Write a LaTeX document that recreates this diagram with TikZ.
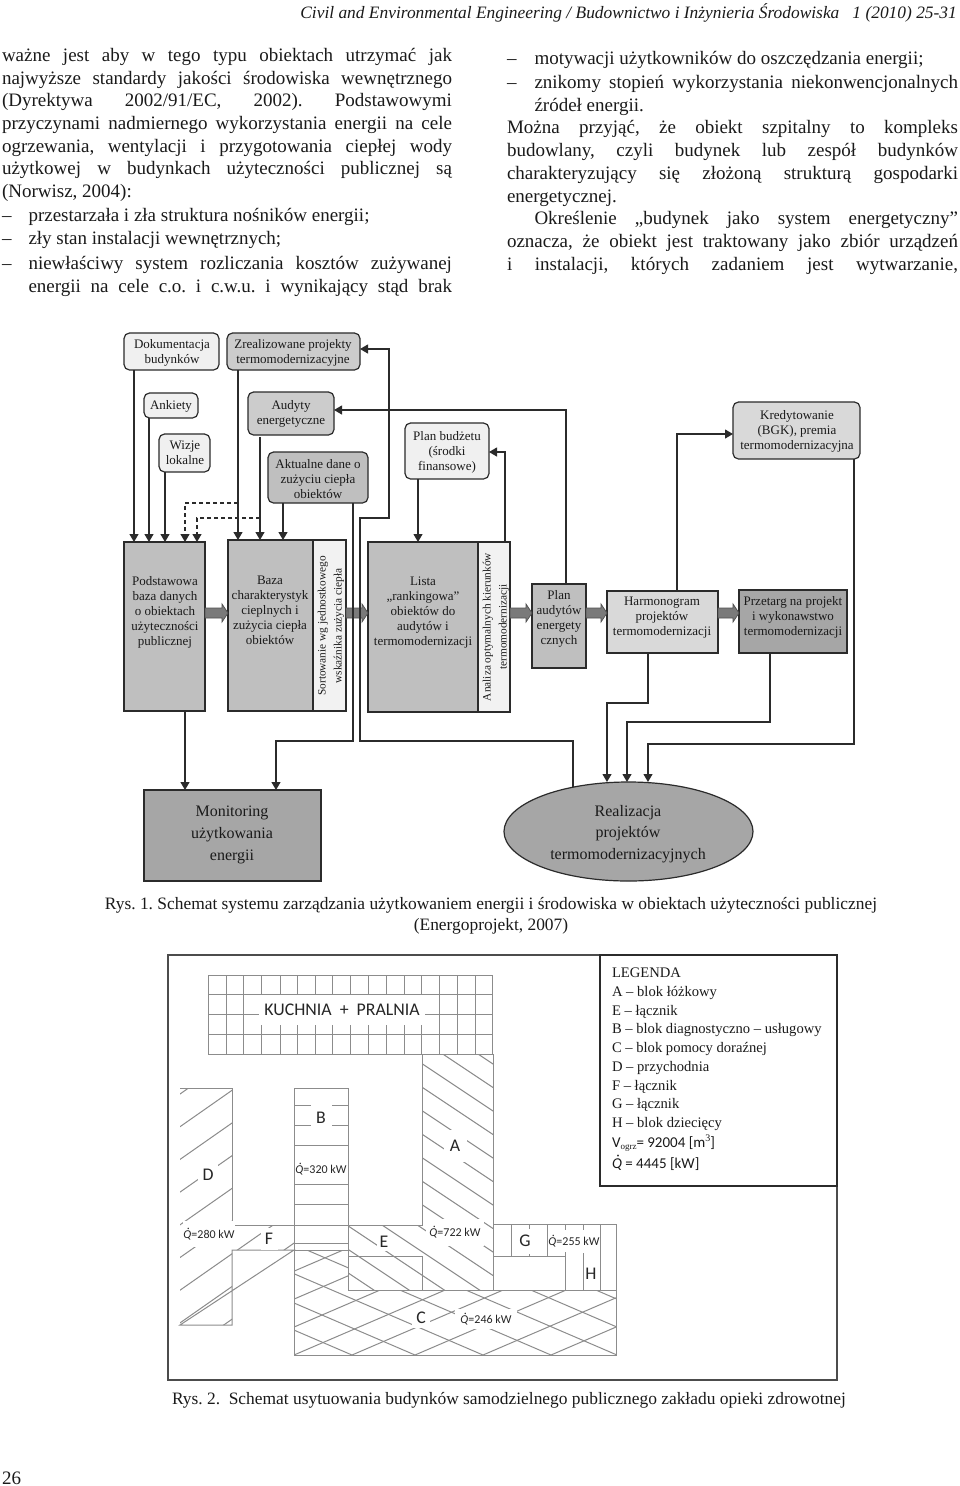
\documentclass[tikz,border=0pt]{standalone}
\usepackage{fontspec}
\setmainfont{Liberation Serif}
\newfontfamily\calfont{Carlito}
\usetikzlibrary{arrows.meta,calc,shapes.geometric}
\definecolor{ink}{HTML}{2B2B2B}
\definecolor{plan}{HTML}{8C8C8C}
\definecolor{txtc}{HTML}{1A1A1A}
\tikzset{
  bodytxt/.style={inner sep=0pt,outer sep=0pt,text=txtc,font=\fontsize{19}{23}\selectfont,anchor=base west},
  captxt/.style={inner sep=0pt,outer sep=0pt,text=txtc,font=\fontsize{17.4}{21}\selectfont,anchor=base},
  rbox/.style={draw=ink,line width=1.2pt,rounded corners=5.5pt,inner sep=0pt,outer sep=0pt},
  sbox/.style={draw=ink,line width=1.3pt,inner sep=0pt,outer sep=0pt},
  lab/.style={inner sep=0pt,outer sep=0pt,align=center,text=txtc,font=\fontsize{13}{15}\selectfont},
  biglab/.style={inner sep=0pt,outer sep=0pt,align=center,text=txtc,font=\fontsize{16}{21.7}\selectfont},
  rotlab/.style={inner sep=0pt,outer sep=0pt,align=center,text=txtc,rotate=90,font=\fontsize{11.3}{16}\selectfont},
  arr/.style={draw=ink,line width=1.1pt,-{Triangle[length=8pt,width=9pt]}},
  das/.style={draw=ink,line width=1.1pt,dash pattern=on 4pt off 3pt},
  fatarr/.style={fill=black!52,draw=black!68,line width=0.7pt},
  planl/.style={draw=plan,line width=1pt},
  whl/.style={fill=white,inner sep=0pt,outer sep=0pt},
  cl/.style={text=black!85,font=\calfont\fontsize{17.8}{20}\selectfont},
  cq/.style={text=black!85,font=\calfont\fontsize{12}{14}\selectfont},
  leg/.style={inner sep=0pt,outer sep=0pt,text=txtc,font=\fontsize{14.6}{18}\selectfont,anchor=base west}
}
\newcommand\Qd{{\itshape\accent"02D9 Q}}
% name x0 y0 x1 y1 style
\newcommand\bx[6]{\node[#6,minimum width={(#4-#2)*1pt},minimum height={(#5-#3)*1pt}] (#1) at ({(#2+#4)/2},{(#3+#5)/2}) {};}
% justified line: name x y width text
\newcommand\jl[5]{\node[bodytxt] (#1) at (#2,#3) {\makebox[#4pt][s]{#5}};}
\newcommand\fl[4]{\node[bodytxt] (#1) at (#2,#3) {#4};}
\newcommand\fat[3]{\coordinate (fa) at (#1.east |- 0,#3);\coordinate (fb) at (#2.west |- 0,#3);
  \draw[fatarr] ($(fa)+(0,-5)$) -- ($(fb)+(-6,-5)$) -- ($(fb)+(-6,-9)$) -- (fb) -- ($(fb)+(-6,9)$) -- ($(fb)+(-6,5)$) -- ($(fa)+(0,5)$) -- cycle;}
\begin{document}
\frenchspacing
\begin{tikzpicture}[x=1pt,y=-1pt]
\useasboundingbox (0,0) rectangle (960,1486);
\fill[white] (0,0) rectangle (960,1486);

% header and body text
\node[inner sep=0pt,anchor=base east,text=txtc,font=\fontsize{17.4}{18}\selectfont\itshape] (head) at (957,18)
  {Civil and Environmental Engineering / Budownictwo i Inżynieria Środowiska\ \ \ 1 (2010) 25-31};
\jl{l1}{2}{61}{450}{ważne jest aby w tego typu obiektach utrzymać jak}
\jl{l2}{2}{84}{450}{najwyższe standardy jakości środowiska wewnętrznego}
\jl{l3}{2}{106}{450}{(Dyrektywa 2002/91/EC, 2002). Podstawowymi}
\jl{l4}{2}{129}{450}{przyczynami nadmiernego wykorzystania energii na cele}
\jl{l5}{2}{152}{450}{ogrzewania, wentylacji i przygotowania ciepłej wody}
\jl{l6}{2}{174}{450}{użytkowej w budynkach użyteczności publicznej są}
\fl{l7}{2}{197}{(Norwisz, 2004):}
\fl{d8}{2}{221}{–}\fl{l8}{28.5}{221}{przestarzała i zła struktura nośników energii;}
\fl{d9}{2}{244}{–}\fl{l9}{28.5}{244}{zły stan instalacji wewnętrznych;}
\fl{d10}{2}{269}{–}\jl{l10}{28.5}{269}{423.5}{niewłaściwy system rozliczania kosztów zużywanej}
\jl{l11}{28.5}{292}{423.5}{energii na cele c.o. i c.w.u. i wynikający stąd brak}
\fl{d12}{507}{64}{–}\fl{r1}{534.5}{64}{motywacji użytkowników do oszczędzania energii;}
\fl{d13}{507}{88}{–}\jl{r2}{534.5}{88}{423.5}{znikomy stopień wykorzystania niekonwencjonalnych}
\fl{r3}{534.5}{111}{źródeł energii.}
\jl{r4}{507}{133}{451}{Można przyjąć, że obiekt szpitalny to kompleks}
\jl{r5}{507}{156}{451}{budowlany, czyli budynek lub zespół budynków}
\jl{r6}{507}{179}{451}{charakteryzujący się złożoną strukturą gospodarki}
\fl{r7}{507}{202}{energetycznej.}
\jl{r8}{534.5}{224}{423.5}{Określenie „budynek jako system energetyczny”}
\jl{r9}{507}{247}{451}{oznacza, że obiekt jest traktowany jako zbiór urządzeń}
\jl{r10}{507}{270}{451}{i instalacji, których zadaniem jest wytwarzanie,}

% diagram boxes
\bx{dok}{124}{333}{219}{370}{rbox,fill=black!6}
\bx{zre}{227}{333}{360}{370}{rbox,fill=black!20}
\bx{ank}{144}{393}{198}{418}{rbox,fill=black!6}
\bx{wiz}{159}{434}{210}{472}{rbox,fill=black!6}
\bx{aud}{248}{392}{334}{435}{rbox,fill=black!20}
\bx{akt}{268}{452}{368}{503}{rbox,fill=black!25}
\bx{pla}{405}{423}{489}{479}{rbox,fill=black!6}
\bx{kre}{733}{402}{860}{459}{rbox,fill=black!15}
\bx{pod}{124}{542}{205}{711}{sbox,fill=black!25}
\bx{baz}{228}{540}{313}{711}{sbox,fill=black!25}
\bx{bazs}{313}{540}{346}{711}{sbox,fill=black!5}
\bx{lis}{368}{542}{478}{712}{sbox,fill=black!25}
\bx{liss}{478}{542}{510}{712}{sbox,fill=black!5}
\bx{pau}{532}{584}{586}{668}{sbox,fill=black!25}
\bx{har}{607}{591}{718}{653}{sbox,fill=black!15}
\bx{prz}{739}{590}{847}{653}{sbox,fill=black!35}
\bx{mon}{144}{790}{321}{881}{sbox,fill=black!35}
\node[ellipse,draw=ink,line width=1.2pt,fill=black!35,inner sep=0pt,outer sep=0pt,minimum width=249pt,minimum height=99pt] (rea) at (628.5,831.5) {};

% labels
\node[lab] (tdok) at (172,352.5) {Dokumentacja\\budynków};
\node[lab] (tzre) at (293,352.5) {Zrealizowane projekty\\termomodernizacyjne};
\node[lab] (tank) at (171,406) {Ankiety};
\node[lab] (twiz) at (185,453) {Wizje\\lokalne};
\node[lab] (taud) at (291,414) {Audyty\\energetyczne};
\node[lab] (takt) at (318,479) {Aktualne dane o\\zużyciu ciepła\\obiektów};
\node[lab] (tpla) at (447,452) {Plan budżetu\\(środki\\finansowe)};
\node[lab] (tkre) at (797,431.5) {Kredytowanie\\(BGK), premia\\termomodernizacyjna};
\node[lab] (tpod) at (165,612) {Podstawowa\\baza danych\\o obiektach\\użyteczności\\publicznej};
\node[lab] (tbaz) at (270,610) {Baza\\charakterystyk\\cieplnych i\\zużycia ciepła\\obiektów};
\node[lab] (tlis) at (423,613) {Lista\\„rankingowa”\\obiektów do\\audytów i\\termomodernizacji};
\node[lab] (tpau) at (559,619) {Plan\\audytów\\energety\\cznych};
\node[lab] (thar) at (662,618) {Harmonogram\\projektów\\termomodernizacji};
\node[lab] (tprz) at (793,617) {Przetarg na projekt\\i wykonawstwo\\termomodernizacji};
\node[rotlab] (tbazs) at (331,626) {Sortowanie wg jednostkowego\\wskaźnika zużycia ciepła};
\node[rotlab] (tliss) at (496,627) {Analiza optymalnych kierunków\\termomodernizacji};
\node[biglab] (tmon) at (232,835) {Monitoring\\użytkowania\\energii};
\node[biglab] (trea) at (628,834) {Realizacja\\projektów\\termomodernizacyjnych};

% thick flow arrows
\fat{pod}{baz}{613}
\fat{bazs}{lis}{613}
\fat{liss}{pau}{613}
\fat{pau}{har}{613}
\fat{har}{prz}{613}

% connectors
\coordinate (j1) at (238,503);
\coordinate (j2) at (260,518);
\draw[arr] (dok.south -| 134,0) -- (pod.north -| 134,0);
\draw[arr] (ank.south -| 149,0) -- (pod.north -| 149,0);
\draw[arr] (wiz.south -| 165,0) -- (pod.north -| 165,0);
\draw[arr] (zre.south -| 238,0) -- (baz.north -| 238,0);
\draw[arr] (aud.south -| 260,0) ++(0,2) -- (baz.north -| 260,0);
\draw[arr] (akt.south -| 283,0) -- (baz.north -| 283,0);
\draw[das,-{Triangle[length=8pt,width=9pt]}] (j1) -- (185,503) -- (pod.north -| 185,0);
\draw[das,-{Triangle[length=8pt,width=9pt]}] (j2) -- (197,518) -- (pod.north -| 197,0);
\draw[arr] (pla.south -| 418,0) -- (lis.north -| 418,0);
\draw[arr] (liss.north -| 505,0) -- (505,452) -- (pla.east |- 0,452);
\draw[arr] (pau.north -| 566,0) -- (566,410) -- (aud.east |- 0,410);
\draw[arr] (har.north -| 677,0) -- (677,434) -- (kre.west |- 0,434);
\draw[arr] (akt.south -| 353,0) -- (353,741) -- (276,741) -- (mon.north -| 276,0);
\draw[arr] (pod.south -| 185,0) -- (mon.north -| 185,0);
\coordinate (rt) at ($(rea.north -| 573,0)+(0,5)$);
\draw[arr] (rt) -- (573,741) -- (360,741) -- (360,518) -- (389,518) -- (389,349) -- (zre.east |- 0,349);
\draw[arr] (har.south -| 648,0) -- (648,703) -- (607,703) -- (rea.north -| 607,0);
\draw[arr] (prz.south -| 770,0) -- (770,722) -- (627,722) -- (rea.north -| 627,0);
\draw[arr] (kre.south -| 854,0) -- (854,744) -- (648,744) -- (rea.north -| 648,0);

\node[captxt] (c1a) at (491,909) {Rys. 1. Schemat systemu zarządzania użytkowaniem energii i środowiska w obiektach użyteczności publicznej};
\node[captxt] (c1b) at (491,930) {(Energoprojekt, 2007)};

% plan frame
\draw[draw=black!70,line width=1.2pt] (168,955) rectangle (837,1380);

% plan: hatches
\begin{scope}
\clip (422,1054) -- (493,1054) -- (493,1290) -- (348,1290) -- (348,1225) -- (422,1225) -- cycle;
\foreach \k in {-1,...,13}{\draw[planl] (340,{1064+23.5*\k-102}) -- (500,{1064+23.5*\k+4.67});}
\end{scope}
\begin{scope}
\clip (180,1088) -- (232,1088) -- (232,1225) -- (294,1225) -- (294,1250) -- (232,1250) -- (232,1325) -- (180,1325) -- cycle;
\foreach \k in {0,...,8}{\draw[planl] (175,{1094+32.7*\k+3.5}) -- (300,{1094+32.7*\k-84});}
\end{scope}
\begin{scope}
\clip (294,1250) -- (348,1250) -- (348,1290) -- (616,1290) -- (616,1355) -- (294,1355) -- cycle;
\foreach \x in {294,352,415,483,551,617,682,747,812}{\draw[planl] (\x,1355) -- ({\x-300},{1355-129});}
\foreach \x in {34,99,164,229,294,352,415,483,551}{\draw[planl] (\x,1355) -- ({\x+300},{1355-129});}
\end{scope}
% plan: B lines
\foreach \y in {1105,1125,1145,1165,1184,1204,1225,1243}{\draw[planl] (294,\y) -- (348,\y);}
% plan: grid
\foreach \x in {208.3,226.3,243.7,261.7,280,297.3,315.3,332.7,350.7,368.7,386,404,421.7,439.3,457.3,475,492.7}{\draw[planl] (\x,975) -- (\x,1054);}
\foreach \y in {975,994.3,1014,1034,1054}{\draw[planl] (208.3,\y) -- (492.7,\y);}
% plan: G/H verticals
\foreach \x in {511,529,547}{\draw[planl] (\x,1224) -- (\x,1256);}
\foreach \x in {565,583,600}{\draw[planl] (\x,1224) -- (\x,1290);}
% plan: outlines
\draw[planl] (422,1054) -- (493,1054) -- (493,1290) -- (348,1290) -- (348,1225) -- (422,1225) -- cycle;
\draw[planl] (348,1256) -- (422,1256) -- (422,1290);
\draw[planl] (180,1088) -- (232,1088) -- (232,1225) -- (294,1225);
\draw[planl] (294,1250) -- (232,1250) -- (232,1325) -- (180,1325) -- cycle;
\draw[planl] (294,1088) rectangle (348,1250);
\draw[planl] (294,1250) -- (294,1355) -- (616,1355) -- (616,1290) -- (348,1290) -- (348,1250);
\draw[planl] (493,1224) -- (616,1224) -- (616,1290);
\draw[planl] (493,1256) -- (565,1256);

% plan: labels on white
\node[whl,cl,minimum width=166pt,minimum height=30pt] (kuch) at (342,1010) {KUCHNIA\ \ +\ \ PRALNIA};
\node[whl,cl,minimum width=20pt,minimum height=26pt] (lD) at (208,1175) {D};
\node[whl,cl,minimum width=21pt,minimum height=28pt] (lB) at (321,1118) {B};
\node[whl,cq,minimum width=53pt,minimum height=17pt] (q320) at (321,1169) {\Qd=320 kW};
\node[whl,cl,minimum width=23pt,minimum height=32pt] (lA) at (455,1146) {A};
\node[whl,cq,minimum width=46pt,minimum height=26pt] (q280) at (209,1234) {\Qd=280 kW};
\node[whl,cl,minimum width=17pt,minimum height=22pt] (lF) at (269,1239) {F};
\node[whl,cl,minimum width=14pt,minimum height=18pt] (lE) at (384,1242) {E};
\node[whl,cq,minimum width=58pt,minimum height=27pt] (q722) at (455,1232) {\Qd=722 kW};
\node[whl,cl,minimum width=15pt,minimum height=25pt] (lG) at (525,1241) {G};
\node[whl,cq,minimum width=51pt,minimum height=23pt] (q255) at (574,1241) {\Qd=255 kW};
\node[whl,cl,minimum width=14pt,minimum height=20pt] (lH) at (591,1274) {H};
\node[whl,cl,minimum width=18pt,minimum height=20pt] (lC) at (421,1318) {C};
\node[whl,cq,minimum width=62pt,minimum height=20pt] (q246) at (486,1319) {\Qd=246 kW};
\draw[planl] (565,1252) -- (565,1290);
\draw[planl] (600,1224) -- (600,1290);

% legend
\draw[draw=ink,line width=1.2pt,fill=white] (600,955) rectangle (837,1186);
\node[leg] (g0) at (612,977) {LEGENDA};
\node[leg] (g1) at (612,996) {A – blok łóżkowy};
\node[leg] (g2) at (612,1015) {E – łącznik};
\node[leg] (g3) at (612,1033) {B – blok diagnostyczno – usługowy};
\node[leg] (g4) at (612,1052) {C – blok pomocy doraźnej};
\node[leg] (g5) at (612,1071) {D – przychodnia};
\node[leg] (g6) at (612,1090) {F – łącznik};
\node[leg] (g7) at (612,1108) {G – łącznik};
\node[leg] (g8) at (612,1127) {H – blok dziecięcy};
\node[leg,font=\calfont\fontsize{15}{18}\selectfont] (g9) at (612,1147) {V\raisebox{-2pt}{\fontsize{9}{9}\selectfont\rmfamily ogrz}= 92004 [m\raisebox{6pt}{\fontsize{10}{10}\selectfont\rmfamily 3}]};
\node[leg,font=\calfont\fontsize{15}{18}\selectfont] (g10) at (612,1168) {\Qd\ = 4445 [kW]};

\node[captxt,anchor=base west] (c2) at (172,1404) {Rys. 2.\ \ Schemat usytuowania budynków samodzielnego publicznego zakładu opieki zdrowotnej};
\node[inner sep=0pt,anchor=base west,text=txtc,font=\fontsize{19}{23}\selectfont] (pg) at (2,1484) {26};
\end{tikzpicture}
\end{document}
